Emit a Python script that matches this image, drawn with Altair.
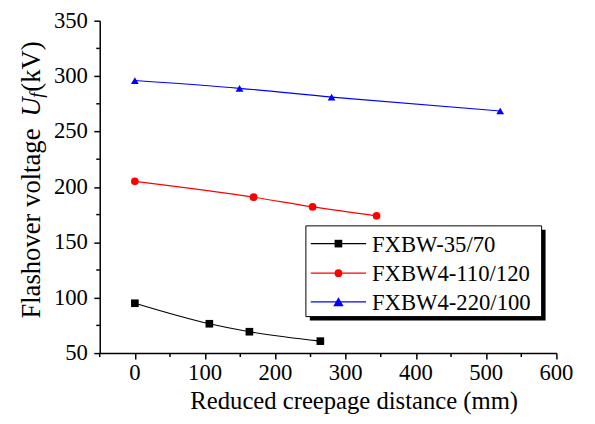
import altair as alt
import pandas as pd

series = ["FXBW-35/70", "FXBW4-110/120", "FXBW4-220/100"]
colors = ["#000000", "#ff0000", "#0000ff"]
shapes = ["square", "circle", "triangle-up"]
sizes = [60, 62, 110]

x_35 = [0, 106, 163, 264]
y_35 = [95.0, 76.5, 69.3, 60.8]
x_110 = [0, 169, 253, 344]
y_110 = [205.0, 190.7, 181.9, 173.9]
x_220 = [0, 149, 280, 520]
y_220 = [296.0, 289.0, 281.0, 268.5]

x_major = list(range(0, 601, 100))
x_minor = list(range(-50, 601, 100))
y_major = list(range(50, 351, 50))
y_minor = list(range(75, 351, 50))

rows = []
for name, xs, ys in [(series[0], x_35, y_35), (series[1], x_110, y_110), (series[2], x_220, y_220)]:
    for a, b in zip(xs, ys):
        rows.append({"series": name, "d": a, "u": b})
df = pd.DataFrame(rows)

FONT = "Liberation Serif"
W, H = 463, 337

xscale = alt.Scale(domain=[-50, 600], nice=False, zero=False)
yscale = alt.Scale(domain=[50, 350], nice=False, zero=False)
cscale = alt.Scale(domain=series, range=colors)
sscale = alt.Scale(domain=series, range=shapes)
zscale = alt.Scale(domain=series, range=sizes)

x_axis = alt.Axis(values=x_major, tickSize=6, labels=False, title=None, grid=False)
y_axis = alt.Axis(values=y_major, tickSize=6, labels=False, title=None, grid=False)

base = alt.Chart(df)
lines = base.mark_line(strokeWidth=1.2, interpolate="monotone").encode(
    x=alt.X("d:Q", scale=xscale, axis=x_axis),
    y=alt.Y("u:Q", scale=yscale, axis=y_axis),
    color=alt.Color("series:N", scale=cscale, legend=None),
    detail="series:N",
)
points = base.mark_point(filled=True, opacity=1).encode(
    x=alt.X("d:Q", scale=xscale),
    y=alt.Y("u:Q", scale=yscale),
    color=alt.Color("series:N", scale=cscale, legend=None),
    shape=alt.Shape("series:N", scale=sscale, legend=None),
    size=alt.Size("series:N", scale=zscale, legend=None),
)

# minor ticks (outward), positioned through the scales
xmin_ticks = alt.Chart(pd.DataFrame({"v": x_minor})).mark_rule(color="black", strokeWidth=1.5).encode(
    x=alt.X("v:Q", scale=xscale), y=alt.value(H), y2=alt.value(H + 4))
ymin_ticks = alt.Chart(pd.DataFrame({"v": y_minor})).mark_rule(color="black", strokeWidth=1.5).encode(
    y=alt.Y("v:Q", scale=yscale), x=alt.value(0), x2=alt.value(-3.5))

# tick labels as serif text
xlab = alt.Chart(pd.DataFrame({"v": x_major})).mark_text(
    align="center", baseline="top", font=FONT, fontSize=23, color="black").encode(
    x=alt.X("v:Q", scale=xscale), y=alt.value(H + 9), text=alt.Text("v:Q", format="d"))
ylab = alt.Chart(pd.DataFrame({"v": y_major})).mark_text(
    align="right", baseline="middle", font=FONT, fontSize=23, color="black").encode(
    y=alt.Y("v:Q", scale=yscale), x=alt.value(-12), text=alt.Text("v:Q", format="d"))

one = pd.DataFrame({"k": [0]})
shadow = alt.Chart(one).mark_rect(color="black").encode(
    x=alt.value(213), x2=alt.value(452), y=alt.value(212), y2=alt.value(304))
box = alt.Chart(one).mark_rect(fill="white", stroke="black", strokeWidth=1).encode(
    x=alt.value(209), x2=alt.value(448), y=alt.value(208), y2=alt.value(300))

legend_layers = []
row_y = [226, 256, 285]
for name, col, shp, sz, yy in zip(series, colors, shapes, sizes, row_y):
    d = pd.DataFrame({"name": [name]})
    legend_layers.append(alt.Chart(d).mark_rule(color=col, strokeWidth=1.2).encode(
        x=alt.value(214), x2=alt.value(270), y=alt.value(yy)))
    legend_layers.append(alt.Chart(d).mark_point(filled=True, opacity=1, size=sz, color=col, shape=shp).encode(
        x=alt.value(242), y=alt.value(yy)))
    legend_layers.append(alt.Chart(d).mark_text(align="left", baseline="middle", font=FONT, fontSize=23, color="black").encode(
        text="name:N", x=alt.value(276), y=alt.value(yy + 1)))

xt = alt.Chart(pd.DataFrame({"t": ["Reduced creepage distance (mm)"]})).mark_text(
    align="center", baseline="middle", font=FONT, fontSize=25, color="black").encode(
    text="t:N", x=alt.value(258), y=alt.value(386))

yt_parts = [
    ("Flashover voltage", 302, 27, "normal", -69),
    ("U", 97, 27, "italic", -69),
    ("f", 78, 19, "italic", -64),
    ("(kV)", 72, 27, "normal", -69),
]
yt_layers = []
for txt, yy, fs, st, xx in yt_parts:
    yt_layers.append(alt.Chart(pd.DataFrame({"t": [txt]})).mark_text(
        align="left", baseline="middle", angle=270, font=FONT, fontSize=fs, fontStyle=st, color="black").encode(
        text="t:N", x=alt.value(xx), y=alt.value(yy)))

chart = alt.layer(lines, points, xmin_ticks, ymin_ticks, xlab, ylab, shadow, box,
                  *legend_layers, xt, *yt_layers).properties(
    width=W, height=H,
    background="white",
    autosize=alt.AutoSizeParams(type="none"),
    padding={"left": 93, "top": 10, "right": 31, "bottom": 69},
).configure_view(stroke=None).configure_axis(
    domainColor="black", domainWidth=1.5, tickColor="black", tickWidth=1.5,
)

chart.save("out.html", embed_options={"renderer": "svg", "actions": False})
